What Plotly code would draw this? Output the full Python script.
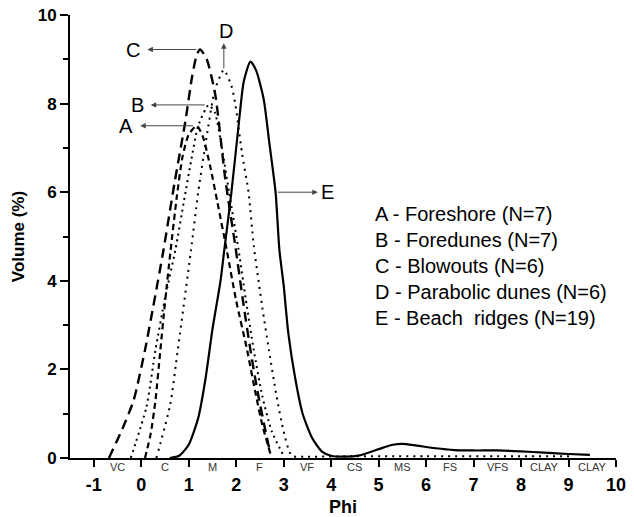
import plotly.graph_objects as go

# ---- data ----
phi_A = [0.08, 0.2, 0.3, 0.4, 0.5, 0.62, 0.75, 0.87, 1.0, 1.17, 1.3, 1.45, 1.6, 1.8, 2.0, 2.23, 2.4, 2.55, 2.72]
vol_A = [0.0, 0.55, 1.3, 2.4, 3.5, 4.7, 5.9, 6.8, 7.3, 7.5, 7.25, 6.6, 5.8, 4.7, 3.55, 2.44, 1.5, 0.75, 0.1]

phi_B = [-0.22, 0.11, 0.3, 0.5, 0.72, 0.9, 1.05, 1.2, 1.42, 1.55, 1.7, 1.85, 2.05, 2.2, 2.37, 2.55, 2.75, 3.0]
vol_B = [0.0, 1.15, 2.44, 3.6, 4.7, 5.8, 6.7, 7.5, 7.97, 7.8, 7.0, 6.0, 4.7, 3.6, 2.44, 1.4, 0.6, 0.05]

phi_C = [-0.68, -0.4, -0.16, 0.08, 0.25, 0.47, 0.7, 0.93, 1.07, 1.17, 1.24, 1.38, 1.56, 1.77, 1.98, 2.15, 2.3, 2.45, 2.6, 2.72]
vol_C = [0.0, 0.65, 1.3, 2.44, 3.4, 4.7, 6.2, 7.6, 8.6, 9.1, 9.22, 9.0, 8.2, 6.3, 4.8, 3.5, 2.44, 1.5, 0.7, 0.1]

phi_D = [0.32, 0.61, 0.77, 1.05, 1.2, 1.4, 1.55, 1.74, 1.9, 1.98, 2.12, 2.26, 2.37, 2.55, 2.69, 2.85, 3.0, 3.17, 3.5, 4.5, 6.0, 7.5, 9.1]
vol_D = [0.0, 1.2, 2.44, 4.7, 6.0, 7.4, 8.3, 8.76, 8.4, 8.0, 6.9, 6.0, 4.8, 3.4, 2.44, 1.4, 0.6, 0.05, 0.03, 0.04, 0.04, 0.04, 0.04]

phi_E = [0.6, 0.8, 1.0, 1.2, 1.35, 1.5, 1.67, 1.75, 1.9, 2.05, 2.16, 2.3, 2.42, 2.58, 2.7, 2.83, 2.91, 3.0, 3.1,
         3.25, 3.4, 3.6, 3.8, 4.0, 4.3, 4.6, 5.0, 5.3, 5.5, 5.8, 6.2, 6.6, 7.0, 7.5, 8.0, 8.5, 9.0, 9.45]
vol_E = [0.0, 0.05, 0.3, 0.9, 1.76, 2.9, 4.0, 4.7, 6.0, 7.5, 8.5, 8.95, 8.75, 8.1, 7.1, 6.0, 4.7, 3.9, 2.8,
         1.76, 1.0, 0.45, 0.15, 0.05, 0.03, 0.06, 0.2, 0.3, 0.32, 0.28, 0.22, 0.18, 0.17, 0.17, 0.15, 0.12, 0.09, 0.07]

x_tick_vals = [-1, 0, 1, 2, 3, 4, 5, 6, 7, 8, 9, 10]
y_tick_vals = [0, 2, 4, 6, 8, 10]
size_class_pos = [-0.5, 0.5, 1.5, 2.5, 3.5, 4.5, 5.5, 6.5, 7.5, 8.5, 9.5]
size_class_labels = ["VC", "C", "M", "F", "VF", "CS", "MS", "FS", "VFS", "CLAY", "CLAY"]
legend_lines = ["A - Foreshore (N=7)", "B - Foredunes (N=7)", "C - Blowouts (N=6)",
                "D - Parabolic dunes (N=6)", "E - Beach\u00a0\u00a0ridges (N=19)"]

FONT = "Liberation Sans, Arial, sans-serif"

fig = go.Figure()
series = [
    ("A", phi_A, vol_A, dict(color="black", width=2.2, dash="6px,4px")),
    ("B", phi_B, vol_B, dict(color="black", width=2, dash="2px,4px")),
    ("C", phi_C, vol_C, dict(color="black", width=2.4, dash="10px,6px")),
    ("D", phi_D, vol_D, dict(color="black", width=2, dash="2px,5px")),
    ("E", phi_E, vol_E, dict(color="black", width=2.2)),
]
for name, xs, ys, ln in series:
    fig.add_trace(go.Scatter(x=xs, y=ys, mode="lines", name=name,
                             line=dict(shape="spline", smoothing=0.6, **ln),
                             showlegend=False, hoverinfo="skip"))

def peak(xs, ys):
    i = max(range(len(ys)), key=lambda k: ys[k])
    return xs[i], ys[i]

ann = []
arrow_style = dict(showarrow=True, arrowhead=2, arrowsize=1.1, arrowwidth=1,
                   arrowcolor="#444", axref="x", ayref="y", text="")
label_font = dict(family=FONT, size=20, color="black")

# A, B, C: horizontal arrows pointing left from the peak
for name, xs, ys, head_x, lab_x in [("A", phi_A, vol_A, -0.02, -0.32),
                                     ("B", phi_B, vol_B, 0.2, -0.08),
                                     ("C", phi_C, vol_C, 0.13, -0.18)]:
    px, py = peak(xs, ys)
    ann.append(dict(x=head_x, y=py, ax=px - 0.05, ay=py, xref="x", yref="y", **arrow_style))
    ann.append(dict(x=lab_x, y=py, xref="x", yref="y", text=name, showarrow=False, font=label_font))

# D: vertical arrow up from the peak
pdx, pdy = peak(phi_D, vol_D)
ann.append(dict(x=pdx, y=pdy + 0.6, ax=pdx, ay=pdy, xref="x", yref="y", **arrow_style))
ann.append(dict(x=pdx + 0.05, y=pdy + 0.88, xref="x", yref="y", text="D", showarrow=False, font=label_font))

# E: arrow pointing right from right flank at ~6%
ann.append(dict(x=3.72, y=6.0, ax=2.85, ay=6.0, xref="x", yref="y", **arrow_style))
ann.append(dict(x=3.93, y=6.0, xref="x", yref="y", text="E", showarrow=False, font=label_font))

# size class labels under axis
for p, t in zip(size_class_pos, size_class_labels):
    ann.append(dict(x=p, y=0, xref="x", yref="paper", yanchor="top", yshift=-1,
                    text=t, showarrow=False, font=dict(family=FONT, size=11, color="#333")))

# legend text block
for i, t in enumerate(legend_lines):
    ann.append(dict(x=4.88, y=5.5 - i * 0.585, xref="x", yref="y", xanchor="left",
                    text=t, showarrow=False, font=dict(family=FONT, size=20, color="black")))

fig.update_layout(
    width=634, height=517,
    margin=dict(l=70, r=18, t=15, b=59),
    paper_bgcolor="white", plot_bgcolor="white",
    annotations=ann,
    xaxis=dict(range=[-1.5, 10], tickvals=x_tick_vals, ticktext=[f"<b>{v}</b>" for v in x_tick_vals],
               automargin=False,
               showgrid=False, zeroline=False, showline=True, linecolor="black", linewidth=2,
               ticks="outside", ticklen=7, tickwidth=2, tickcolor="black",
               ticklabelstandoff=2, ticklabeloverflow="allow",
               tickfont=dict(family=FONT, size=18, color="black"),
               title=dict(text="<b>Phi</b>", font=dict(family=FONT, size=18, color="black"), standoff=8)),
    yaxis=dict(range=[0, 10], tickvals=y_tick_vals, ticktext=[f"<b>{v}</b>" for v in y_tick_vals],
               automargin=False,
               showgrid=False, zeroline=False, showline=True, linecolor="black", linewidth=2,
               ticks="outside", ticklen=8, tickwidth=2, tickcolor="black", ticklabeloverflow="allow",
               minor=dict(tickvals=[1, 3, 5, 7, 9], ticks="outside", ticklen=5, tickwidth=2, tickcolor="black"),
               tickfont=dict(family=FONT, size=17, color="black"),
               title=dict(text="<b>Volume (%)</b>", font=dict(family=FONT, size=17, color="black"), standoff=9)),
)

# remove the browser's default 8px page margin so the figure fills the window exactly
fig.write_html("out.html", config={"displayModeBar": False},
               post_script="document.body.style.margin='0';document.body.style.overflow='hidden';")
